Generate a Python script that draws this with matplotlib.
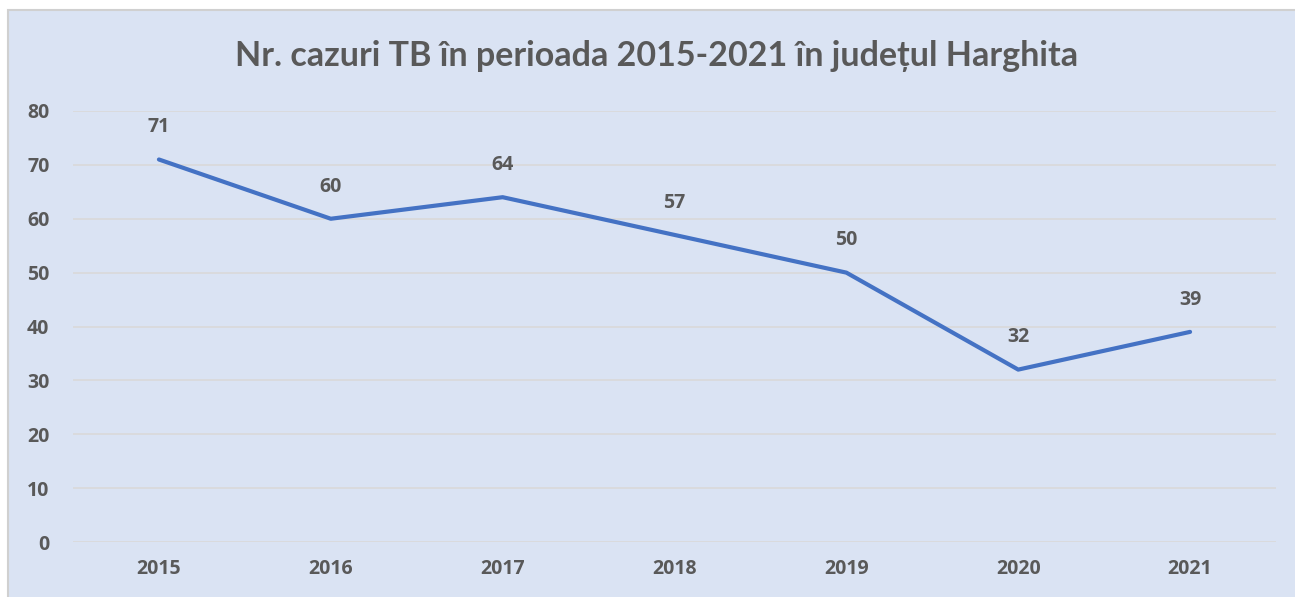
import matplotlib.pyplot as plt
from matplotlib.patches import Rectangle

years = ['2015', '2016', '2017', '2018', '2019', '2020', '2021']
cases = [71, 60, 64, 57, 50, 32, 39]
yticks = [0, 10, 20, 30, 40, 50, 60, 70, 80]

bg = '#DAE3F3'
txt = '#595959'
num_font = ['Open Sans', 'DejaVu Sans']
plt.rcParams['font.family'] = ['Lato', 'DejaVu Sans']
plt.rcParams['font.weight'] = 'bold'

fig = plt.figure(figsize=(12.95, 5.97), dpi=100)
fig.patch.set_facecolor('white')
# panel behind the chart, running off the right and bottom edges
fig.patches.append(Rectangle((8 / 1295, -0.05), 1.1, 1.05 - 10 / 597,
                             transform=fig.transFigure, facecolor=bg,
                             edgecolor='#D0D0D0', linewidth=1.5, zorder=-5))

ax = fig.add_axes([73 / 1295, 55 / 597, (1276 - 73) / 1295, (542 - 111) / 597])
ax.set_zorder(2)
ax.patch.set_alpha(0)

x = list(range(len(years)))
ax.plot(x, cases, color='#4472C4', linewidth=3, solid_capstyle='round', zorder=3)
for xi, v in zip(x, cases):
    ax.annotate(str(v), (xi, v), xytext=(0, 16), textcoords='offset points',
                ha='center', va='bottom', fontsize=14, fontweight='bold',
                family=num_font, color=txt)

ax.set_xlim(-0.5, len(years) - 0.5)
ax.set_ylim(0, 80)
ax.set_yticks(yticks)
ax.set_yticklabels([str(t) for t in yticks], fontweight='bold', family=num_font)
ax.set_xticks(x)
ax.set_xticklabels(years, fontweight='bold', family=num_font)
ax.grid(axis='y', color='#D9D9D9', linewidth=1.2)
ax.set_axisbelow(True)
for s in ax.spines.values():
    s.set_visible(False)
ax.tick_params(length=0, labelsize=14, labelcolor=txt)
ax.tick_params(axis='x', pad=12)
ax.tick_params(axis='y', pad=17)

fig.text(657 / 1295, 1 - 56 / 597, 'Nr. cazuri TB în perioada 2015-2021 în județul Harghita',
         ha='center', va='center', fontsize=24.5, fontweight='bold', color=txt)

fig.savefig('out.png', dpi=100, facecolor=fig.get_facecolor())
